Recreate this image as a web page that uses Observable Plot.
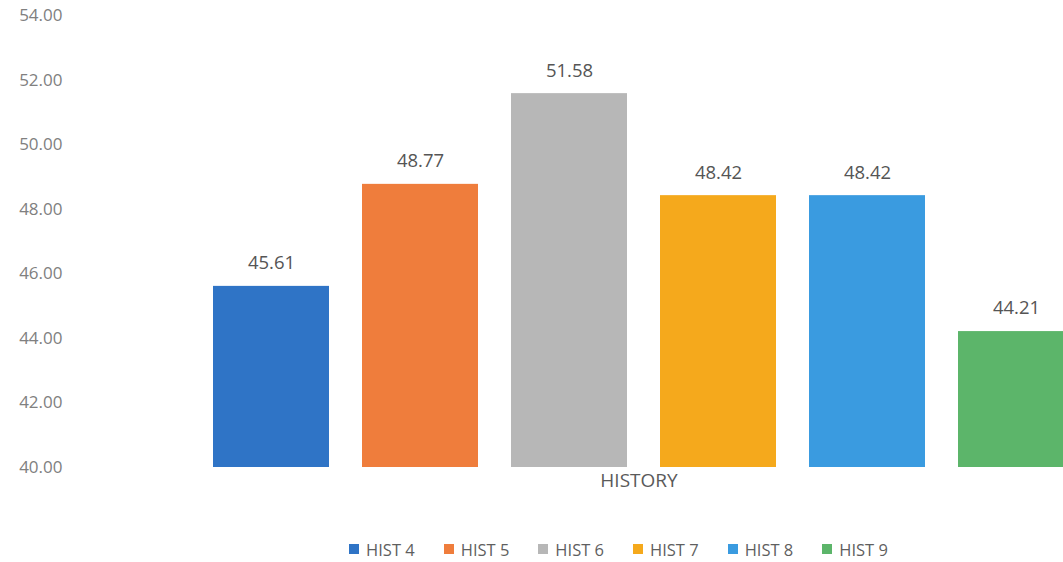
<!DOCTYPE html>
<html>
<head>
<meta charset="utf-8">
<script src="https://cdn.jsdelivr.net/npm/d3@7"></script>
<script src="https://cdn.jsdelivr.net/npm/@observablehq/plot@0.6"></script>
<style>
  html, body { margin: 0; padding: 0; background: #fff; overflow: hidden; width: 1063px; height: 562px; }
  #chart svg { display: block; }
  #legend { display: flex; justify-content: center; align-items: center; height: 20px; margin-top: 39px; padding-left: 174px;
    font-family: "Open Sans", sans-serif; font-size: 16.5px; color: #5f5f5f; }
  .item { display: flex; align-items: center; margin: 0 14.5px; }
  .sw { width: 10px; height: 10px; margin-right: 7px; }
</style>
</head>
<body>
<div id="chart"></div>
<div id="legend"></div>
<script>
const series = ["HIST 4", "HIST 5", "HIST 6", "HIST 7", "HIST 8", "HIST 9"];
const values = [45.61, 48.77, 51.58, 48.42, 48.42, 44.21];
const colors = ["#2f74c6", "#ef7d3c", "#b7b7b7", "#f5a91c", "#3a9be0", "#5cb56a"];
const yTicks = [40, 42, 44, 46, 48, 50, 52, 54];
const category = "HISTORY";

const data = series.map((s, i) => ({series: s, value: values[i]}));
const baseline = yTicks[0];

const chart = Plot.plot({
  width: 1063,
  height: 500,
  marginLeft: 70,
  marginRight: 0,
  marginTop: 0,
  marginBottom: 0,
  style: {fontFamily: "'Open Sans', sans-serif", color: "#808080", background: "#fff"},
  x: {domain: series, range: [195.3, 1091], paddingInner: 0.22, paddingOuter: 0.11, axis: null},
  y: {domain: [yTicks[0], yTicks[yTicks.length - 1]], range: [467, 15], axis: null},
  color: {domain: series, range: colors},
  marks: [
    Plot.axisY({ticks: yTicks, tickFormat: d => d.toFixed(2), tickSize: 0, tickPadding: 8, fontSize: 17, label: null}),
    Plot.barY(data, {x: "series", y1: () => baseline, y2: "value", fill: "series"}),
    Plot.text(data, {x: "series", y: "value", text: d => d.value.toFixed(2), dy: -23, fontSize: 18.5, fill: "#555555"}),
    Plot.text([category], {text: d => d, frameAnchor: "bottom", dx: 72, dy: -14, fontSize: 19, fill: "#5a5a5a"})
  ]
});
document.getElementById("chart").append(chart);

const legend = document.getElementById("legend");
series.forEach((s, i) => {
  const it = document.createElement("div");
  it.className = "item";
  const sw = document.createElement("div");
  sw.className = "sw";
  sw.style.background = colors[i];
  const t = document.createElement("span");
  t.textContent = s;
  it.append(sw, t);
  legend.append(it);
});
</script>
</body>
</html>
